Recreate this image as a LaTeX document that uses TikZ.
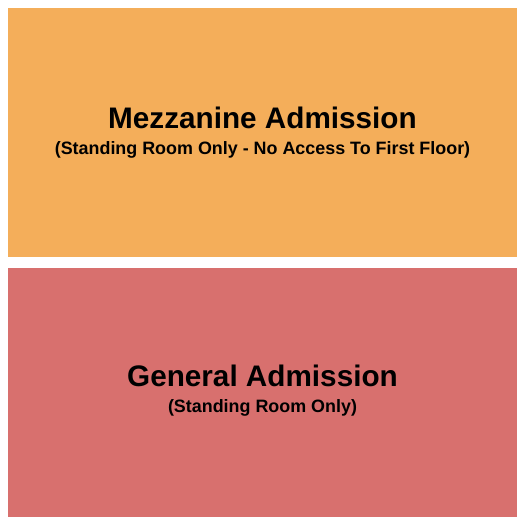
\documentclass[tikz,border=0pt]{standalone}
\usepackage{fontspec}
\setmainfont{Liberation Sans}
\definecolor{mezz}{HTML}{F4AE5A}
\definecolor{ga}{HTML}{D8706E}
\begin{document}
\begin{tikzpicture}[x=1pt,y=-1pt,
  title/.style={font=\fontsize{29.7}{32}\selectfont\bfseries, inner sep=0pt, anchor=base},
  sub/.style={font=\fontsize{17.9}{20}\selectfont\bfseries, inner sep=0pt, anchor=base}]
\useasboundingbox (0,0) rectangle (525,525);
\fill[white] (0,0) rectangle (525,525);
\fill[mezz] (8,8) rectangle (517,257);
\fill[ga] (8,268) rectangle (517,517);
\node[title] (mt) at (262.5,128) {Mezzanine Admission};
\node[sub] (ms) at (262.5,154) {(Standing Room Only - No Access To First Floor)};
\node[title] (gt) at (262.5,386) {General Admission};
\node[sub] (gs) at (262.5,412) {(Standing Room Only)};
\end{tikzpicture}
\end{document}
